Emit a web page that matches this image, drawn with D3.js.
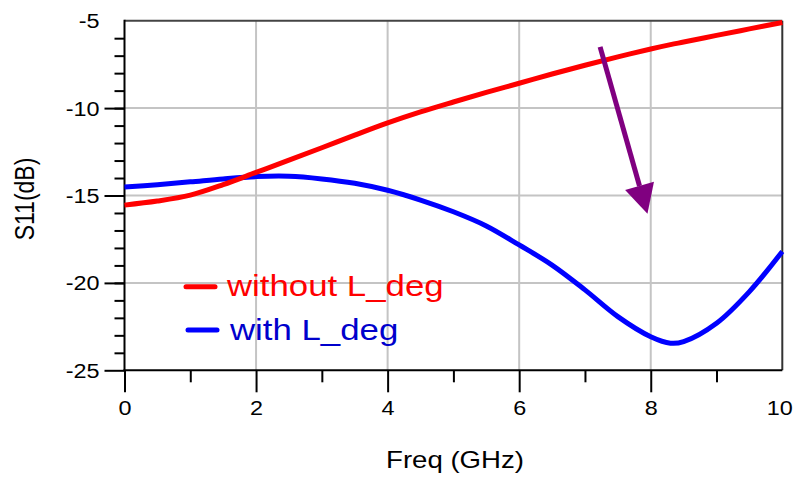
<!DOCTYPE html>
<html>
<head>
<meta charset="utf-8">
<script src="https://cdn.jsdelivr.net/npm/d3@7"></script>
<style>
  body { margin: 0; background: #fff; }
  text { font-family: "Liberation Sans", Arial, sans-serif; }
</style>
</head>
<body>
<div class="chart"></div>
<script>
// data
const freq = [0, 0.5, 1, 1.5, 2, 2.5, 3, 3.5, 4, 4.5, 5, 5.5, 6, 6.5, 7, 7.5, 8, 8.3, 8.5, 9, 9.5, 10]
const withoutLdeg = [-15.55, -15.32, -14.98, -14.38, -13.68, -12.98, -12.27, -11.55, -10.85, -10.22, -9.65, -9.1, -8.58, -8.05, -7.55, -7.07, -6.62, -6.37, -6.22, -5.84, -5.47, -5.1]
const withLdeg = [-14.52, -14.38, -14.22, -14.05, -13.92, -13.9, -14.05, -14.3, -14.7, -15.26, -15.93, -16.74, -17.83, -18.98, -20.4, -21.93, -23.08, -23.45, -23.36, -22.31, -20.5, -18.2]
const xMajorTicks = [0, 2, 4, 6, 8, 10]
const xMinorTicks = [1, 3, 5, 7, 9]
const yMajorTicks = [-25, -20, -15, -10, -5]
const yMinorTicks = d3.range(-24, -5, 1)
const seriesNames = ['without L_deg', 'with L_deg']
const arrowFrom = [7.23, -6.5]
const arrowTo = [7.95, -16.05]

const width = 794, height = 477
const sx = 1.2 // text in the reference is stretched sideways

const svg = d3.select('.chart').append('svg')
    .attr('width', width)
    .attr('height', height)

const x = d3.scaleLinear().domain([0, 10]).range([124.5, 782.3])
const y = d3.scaleLinear().domain([-25, -5]).range([370.3, 20.7])

// grid
svg.append('g')
    .selectAll('line')
    .data([2, 4, 6, 8])
    .join('line')
    .attr('x1', d => x(d)).attr('x2', d => x(d))
    .attr('y1', y(-5)).attr('y2', y(-25))
    .attr('stroke', '#c4c4c4').attr('stroke-width', 2)
svg.append('g')
    .selectAll('line')
    .data([-20, -15, -10])
    .join('line')
    .attr('x1', x(0)).attr('x2', x(10))
    .attr('y1', d => y(d)).attr('y2', d => y(d))
    .attr('stroke', '#c4c4c4').attr('stroke-width', 2)

// frame
svg.append('line').attr('x1', x(0)).attr('x2', x(10)).attr('y1', y(-5)).attr('y2', y(-5))
    .attr('stroke', '#444').attr('stroke-width', 2)
svg.append('line').attr('x1', x(10)).attr('x2', x(10)).attr('y1', y(-5)).attr('y2', y(-25))
    .attr('stroke', '#333').attr('stroke-width', 2)

// y axis
svg.append('g')
    .attr('transform', 'translate(' + x(0) + ',0)')
    .call(d3.axisLeft(y).tickValues(yMinorTicks).tickSize(10).tickFormat(''))
    .call(g => g.select('.domain').remove())
    .selectAll('line').attr('stroke', '#000').attr('stroke-width', 2)

let yAxis = svg.append('g')
    .attr('transform', 'translate(' + x(0) + ',0)')
    .call(d3.axisLeft(y).tickValues(yMajorTicks).tickSize(20).tickPadding(0).tickFormat(d => String(d)))
yAxis.select('.domain').remove()
yAxis.selectAll('line').attr('stroke', '#000').attr('stroke-width', 2)
    .filter(d => d == -5).remove()
yAxis.selectAll('text')
    .attr('font-size', 19.5)
    .attr('fill', '#000')
    .attr('x', -25 / sx)
    .attr('dy', '0.36em')
    .attr('transform', 'scale(' + sx + ',1)')

// x axis
svg.append('g')
    .attr('transform', 'translate(0,' + y(-25) + ')')
    .call(d3.axisBottom(x).tickValues(xMinorTicks).tickSize(12).tickFormat(''))
    .call(g => g.select('.domain').remove())
    .selectAll('line').attr('stroke', '#000').attr('stroke-width', 2)

let xAxis = svg.append('g')
    .attr('transform', 'translate(0,' + y(-25) + ')')
    .call(d3.axisBottom(x).tickValues(xMajorTicks).tickSize(22).tickPadding(0).tickFormat(d => String(d)))
xAxis.select('.domain').remove()
xAxis.selectAll('line').attr('stroke', '#000').attr('stroke-width', 2)
    .filter(d => d == 10).remove()
xAxis.selectAll('text')
    .attr('font-size', 19.5)
    .attr('fill', '#000')
    .attr('y', 45)
    .attr('dy', 0)
    .attr('x', 0)
    .attr('transform', 'scale(' + sx + ',1)')
// last label sits against the right edge
xAxis.selectAll('text')
    .filter(d => d == 10)
    .attr('text-anchor', 'end')
    .attr('x', 10 / sx)

// axis lines
svg.append('line').attr('x1', x(0)).attr('x2', x(0)).attr('y1', y(-5) - 1).attr('y2', y(-25))
    .attr('stroke', '#000').attr('stroke-width', 2)
svg.append('line').attr('x1', x(0) - 1).attr('x2', x(10)).attr('y1', y(-25)).attr('y2', y(-25))
    .attr('stroke', '#000').attr('stroke-width', 2)

// axis titles
svg.append('text')
    .attr('transform', 'translate(455,468) scale(' + sx + ',1)')
    .attr('text-anchor', 'middle')
    .attr('font-size', 23)
    .text('Freq (GHz)')
svg.append('text')
    .attr('transform', 'translate(33.5,199) scale(' + sx + ',1) rotate(-90)')
    .attr('text-anchor', 'middle')
    .attr('font-size', 23)
    .text('S11(dB)')

// curves
let line = d3.line()
    .x((d, i) => x(freq[i]))
    .y(d => y(d))
    .curve(d3.curveCatmullRom)

svg.append('path')
    .datum(withLdeg)
    .attr('d', line)
    .attr('fill', 'none')
    .attr('stroke', '#0000ff')
    .attr('stroke-width', 5)
svg.append('path')
    .datum(withoutLdeg)
    .attr('d', line)
    .attr('fill', 'none')
    .attr('stroke', '#ff0000')
    .attr('stroke-width', 5)

// arrow
const ax1 = x(arrowFrom[0]), ay1 = y(arrowFrom[1])
const ax2 = x(arrowTo[0]), ay2 = y(arrowTo[1])
const ang = Math.atan2(ay2 - ay1, ax2 - ax1)
const headLen = 29, headHalf = 15
const bx = ax2 - headLen * Math.cos(ang), by = ay2 - headLen * Math.sin(ang)
svg.append('line')
    .attr('x1', ax1).attr('y1', ay1).attr('x2', bx).attr('y2', by)
    .attr('stroke', '#800080').attr('stroke-width', 5)
svg.append('path')
    .attr('d', d3.line()([
        [ax2, ay2],
        [bx + headHalf * Math.sin(ang), by - headHalf * Math.cos(ang)],
        [bx - headHalf * Math.sin(ang), by + headHalf * Math.cos(ang)]
    ]))
    .attr('fill', '#800080')

// legend
const legendColors = ['#ff0000', '#0000ff']
const legendText = ['#ff0000', '#0000cc']
const legendY = [286.7, 330]
seriesNames.forEach((name, i) => {
    svg.append('line')
        .attr('x1', 186 + i * 2).attr('x2', 215 + i * 2)
        .attr('y1', legendY[i]).attr('y2', legendY[i])
        .attr('stroke', legendColors[i]).attr('stroke-width', 5)
        .attr('stroke-linecap', 'round')
    svg.append('text')
        .attr('transform', 'translate(' + (227 + i * 3) + ',' + (legendY[i] + 9.5) + ') scale(' + sx + ',1)')
        .attr('font-size', 29)
        .attr('fill', legendText[i])
        .text(name)
})
</script>
</body>
</html>
